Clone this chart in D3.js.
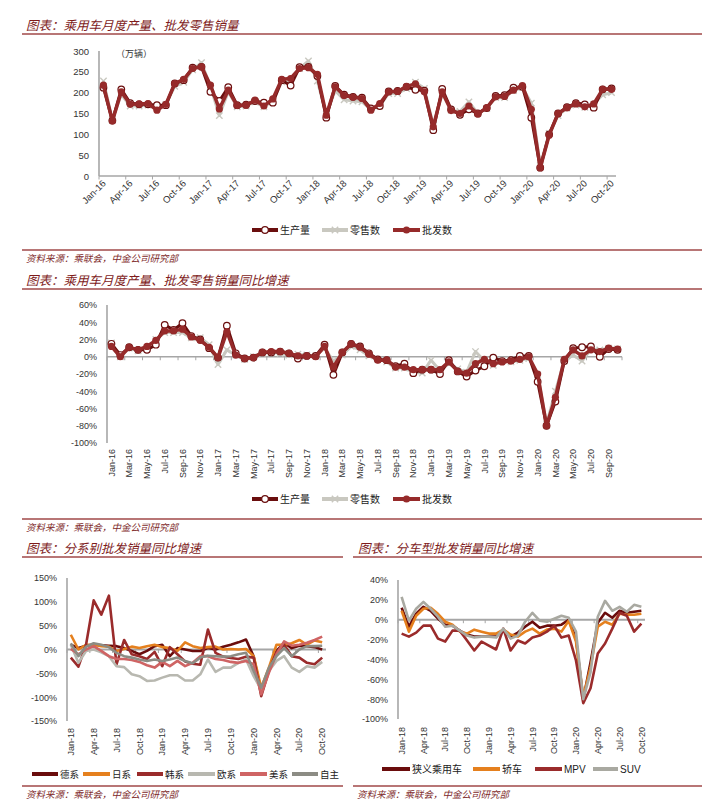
<!DOCTYPE html>
<html>
<head>
<meta charset="utf-8">
<script src="https://cdn.jsdelivr.net/npm/d3@7"></script>
<style>
  body { margin: 0; background: #fff; }
  svg text { font-family: "Liberation Sans", Arial, sans-serif; }
</style>
</head>
<body>
<svg width="717" height="810"></svg>
<script>
// categories
var monthsA = d3.timeMonth.range(new Date(2016, 0, 1), new Date(2020, 10, 1)).map(d3.timeFormat("%b-%y"));
var monthsB = d3.timeMonth.range(new Date(2018, 0, 1), new Date(2020, 10, 1)).map(d3.timeFormat("%b-%y"));

// chart 1: monthly volume (万辆)
var prodVol = [212, 133, 208, 175, 172, 172, 170, 170, 222, 230, 260, 262,
  202, 180, 213, 170, 171, 180, 176, 176, 230, 217, 261, 262,
  240, 140, 216, 195, 190, 188, 162, 168, 203, 204, 214, 207,
  205, 110, 209, 160, 147, 160, 150, 163, 192, 194, 212, 214,
  140, 20, 100, 150, 165, 175, 172, 164, 208, 210];
var retailVol = [228, 135, 196, 168, 168, 170, 165, 172, 215, 225, 255, 272,
  215, 145, 202, 166, 168, 178, 166, 180, 226, 226, 258, 276,
  228, 148, 205, 183, 180, 178, 160, 168, 198, 198, 210, 225,
  210, 122, 198, 158, 155, 178, 150, 162, 188, 188, 205, 212,
  175, 25, 102, 145, 163, 170, 165, 172, 195, 200];
var wholesaleVol = [218, 132, 202, 172, 173, 174, 158, 172, 222, 232, 258, 262,
  218, 161, 206, 169, 170, 182, 168, 185, 232, 234, 258, 260,
  244, 146, 214, 193, 189, 186, 158, 174, 202, 203, 215, 221,
  202, 118, 202, 157, 150, 168, 149, 164, 190, 191, 206, 217,
  160, 20, 98, 150, 164, 173, 166, 173, 208, 208];

// chart 2: YoY (%)
var prodYoy = [15, 2, 11, 8, 8, 14, 37, 31, 39, 24, 20, 10,
  -1, 36, 4, -2, -1, 5, 5, 6, 4, -2, 1, 1,
  14, -21, 5, 15, 12, 4, -3, -4, -11, -8, -19, -15,
  -15, -20, -4, -17, -23, -16, -11, -1, -5, -4, 1, 1,
  -29, -80, -52, -5, 10, 11, 12, 0, 9, 8];
var retailYoy = [16, 0, 10, 7, 10, 20, 28, 28, 28, 22, 22, 14,
  -9, 8, 2, -3, 0, 4, 5, 4, 2, 3, 2, 1,
  10, -5, 2, 12, 8, 1, -3, -6, -13, -13, -18, -19,
  -4, -16, -8, -14, -18, 6, -5, -10, -5, -6, -4, -2,
  -21, -78, -40, -5, 2, -5, 9, 8, 10, 9];
var wholesaleYoy = [12, 0, 11, 8, 12, 19, 30, 30, 32, 23, 19, 11,
  -1, 29, 2, -2, -1, 5, 6, 6, 4, 1, 1, 0,
  12, -12, 5, 15, 11, 3, -4, -4, -12, -12, -15, -15,
  -15, -15, -6, -17, -19, -8, -3, -8, -6, -5, -3, 0,
  -20, -80, -47, -3, 8, 1, 8, 6, 10, 9];

// chart 3: by brand origin (%)
var german = [10, 3, 8, 10, 9, 8, 7, 3, -3, -10, -3, 7, 10, -14, 3, 0, -3, -3, 3, 0, 6, 10, 15, 21, -14, -90, -42, -3, 14, 3, 8, 7, 5, 0];
var japanese = [31, 0, 10, 10, 7, 6, -3, 1, 6, 3, 7, 10, 5, 3, -3, 15, 7, 3, 5, 6, 0, 1, 0, 1, -14, -80, -38, 10, 10, 13, 20, 10, 19, 15];
var korean = [-17, -36, 10, 103, 73, 113, -31, 20, -10, -14, -20, -5, -35, 5, -10, -25, -30, -32, 42, -7, -15, -18, -20, -15, -17, -98, -45, -5, 10, -14, -17, -28, -31, -17];
var european = [10, -28, -3, 0, -6, -14, -35, -37, -52, -56, -66, -65, -59, -54, -54, -65, -65, -52, -21, -47, -38, -38, -28, -21, -56, -84, -45, -24, -14, -38, -47, -35, -38, -26];
var american = [1, -10, 0, 7, -3, -14, -20, -20, -22, -26, -33, -38, -26, -35, -24, -35, -28, -14, -14, -20, -22, -26, -28, -24, -31, -94, -49, -10, 17, 8, 10, 14, 20, 27];
var domestic = [13, -14, 6, 13, 10, 5, -7, -14, -17, -21, -24, -21, -24, -21, -17, -24, -29, -17, -13, -14, -15, -14, -10, -7, -45, -80, -38, -14, 3, -14, 0, 7, 7, 8];

// chart 4: by vehicle type (%)
var passenger = [12, -7, 6, 13, 9, 1, -5, -6, -11, -15, -17, -17, -17, -17, -10, -17, -13, -7, -2, -8, -6, -6, -5, 0, -19, -80, -43, -3, 7, 2, 9, 7, 8, 9];
var sedan = [9, -12, 4, 11, 12, 6, -2, -5, -12, -14, -10, -12, -14, -14, -10, -15, -17, -12, -9, -14, -10, -9, -12, -1, -22, -78, -48, -7, -2, -5, 6, 5, 5, 6];
var mpv = [-14, -17, -13, -6, -6, -19, -22, -11, -11, -21, -31, -22, -26, -30, -9, -31, -21, -24, -18, -16, -12, -6, -18, -16, -41, -84, -69, -34, -24, -9, 7, 4, -12, -4];
var suv = [23, -1, 11, 18, 11, 3, -7, -6, -11, -16, -18, -17, -17, -18, -9, -19, -16, -2, 7, -1, -2, 1, 4, 2, -12, -80, -53, 3, 19, 9, 13, 8, 15, 13];

var svg = d3.select("svg");
svg.append("rect").attr("width", 717).attr("height", 810).attr("fill", "#fff");

var CJK = "'Noto Sans CJK SC', sans-serif";
var SOURCE = "资料来源：乘联会，中金公司研究部";

function header(tx, lx1, lx2, y, title) {
  svg.append("text").attr("x", tx).attr("y", y)
    .style("font-family", CJK).attr("font-style", "italic")
    .attr("font-size", 12.5).attr("fill", "#7E1B1B").text(title);
  svg.append("line").attr("x1", lx1).attr("x2", lx2).attr("y1", y + 4).attr("y2", y + 4)
    .attr("stroke", "#A04848").attr("stroke-width", 1.3);
}

function footer(tx, lx1, lx2, y) {
  svg.append("line").attr("x1", lx1).attr("x2", lx2).attr("y1", y).attr("y2", y)
    .attr("stroke", "#A04848").attr("stroke-width", 1.3);
  svg.append("text").attr("x", tx).attr("y", y + 12)
    .style("font-family", CJK).attr("font-style", "italic")
    .attr("font-size", 9.5).attr("fill", "#7E2A2A").text(SOURCE);
}

function marker(g, type, cx, cy, color) {
  if (type === "open") {
    g.append("circle").attr("cx", cx).attr("cy", cy).attr("r", 3.3)
      .attr("fill", "#fff").attr("stroke", color).attr("stroke-width", 1.2);
  } else if (type === "dot") {
    g.append("circle").attr("cx", cx).attr("cy", cy).attr("r", 3.6).attr("fill", color);
  } else if (type === "cross") {
    var s = 3.2;
    g.append("path").attr("d", "M" + (cx - s) + "," + (cy - s) + "L" + (cx + s) + "," + (cy + s) +
      "M" + (cx - s) + "," + (cy + s) + "L" + (cx + s) + "," + (cy - s))
      .attr("stroke", color).attr("stroke-width", 1.4);
  }
}

function panel(o) {
  var x = d3.scaleBand().domain(o.cats).range([o.x0, o.x1]);
  var y = d3.scaleLinear().domain(o.yDomain).range([o.yBot, o.yTop]);
  var g = svg.append("g");
  var bw = x.bandwidth();

  // y tick labels
  g.append("g").attr("transform", "translate(" + o.x0 + ",0)")
    .call(d3.axisLeft(y).tickValues(o.ticks).tickSize(0).tickPadding(o.pad).tickFormat(o.fmt))
    .call(function (s) { s.select(".domain").remove(); })
    .selectAll("text").attr("font-size", o.fs).attr("fill", "#333")
    .style("font-family", "'Liberation Sans', Arial, sans-serif");

  // y axis line
  g.append("line").attr("x1", o.x0).attr("x2", o.x0).attr("y1", o.yTop).attr("y2", o.yBot)
    .attr("stroke", "#A6A6A6").attr("stroke-width", 1.6);

  // category baseline at 0
  var y0 = y(0);
  g.append("line").attr("x1", o.x0).attr("x2", o.x1).attr("y1", y0).attr("y2", y0)
    .attr("stroke", "#A6A6A6").attr("stroke-width", o.baseW);
  var b;
  for (b = 0; b <= o.cats.length; b += o.every) {
    var bx = o.x0 + b * bw;
    g.append("line").attr("x1", bx).attr("x2", bx).attr("y1", y0).attr("y2", y0 + 3.5)
      .attr("stroke", "#A6A6A6").attr("stroke-width", 1);
  }

  // category labels
  var labs = o.cats.filter(function (d, i) { return i % o.every === 0; });
  labs.forEach(function (d) {
    var cx = x(d) + bw / 2;
    var t = g.append("text").attr("font-size", o.fs).attr("fill", "#333").text(d)
      .style("font-family", "'Liberation Sans', Arial, sans-serif");
    if (o.rot === -45) {
      t.attr("text-anchor", "end")
        .attr("transform", "translate(" + (cx + 3) + "," + (o.labelY) + ") rotate(-45)");
    } else {
      t.attr("text-anchor", "end").attr("dy", "0.35em")
        .attr("transform", "translate(" + cx + "," + (o.labelY) + ") rotate(-90)");
    }
  });

  // series
  var line = d3.line().x(function (d, i) { return x(o.cats[i]) + bw / 2; }).y(function (d) { return y(d); });
  o.series.forEach(function (s) {
    g.append("path").datum(s.values).attr("d", line).attr("fill", "none")
      .attr("stroke", s.color).attr("stroke-width", s.width).attr("stroke-linejoin", "round");
    if (s.marker) {
      s.values.forEach(function (v, i) { marker(g, s.marker, x(o.cats[i]) + bw / 2, y(v), s.mcolor || s.color); });
    }
  });
}

function legend(items, y, fs) {
  items.forEach(function (it) {
    svg.append("line").attr("x1", it.x1).attr("x2", it.x2).attr("y1", y).attr("y2", y)
      .attr("stroke", it.color).attr("stroke-width", it.w || 4);
    if (it.marker) marker(svg, it.marker, (it.x1 + it.x2) / 2, y, it.mcolor || it.color);
    svg.append("text").attr("x", it.x2 + 2).attr("y", y + 3.5)
      .style("font-family", it.latin ? "'Liberation Sans', Arial, sans-serif" : CJK)
      .attr("font-size", fs).attr("fill", "#222").text(it.name);
  });
}

var C_PROD = "#6A0E0E", C_RET = "#C9C8C0", C_WHO = "#962A2A";

// ---------- section 1 ----------
header(26, 22, 702, 30, "图表：乘用车月度产量、批发零售销量");
svg.append("text").attr("x", 116).attr("y", 57).style("font-family", CJK)
  .attr("font-size", 9).attr("fill", "#333").text("（万辆）");
panel({
  cats: monthsA, x0: 99, x1: 616, yTop: 51, yBot: 176, yDomain: [0, 300],
  ticks: d3.range(0, 301, 50), fmt: d3.format("d"), pad: 10, fs: 9.5,
  every: 3, rot: -45, labelY: 184, baseW: 1.6,
  series: [
    { values: retailVol, color: C_RET, width: 3, marker: "cross" },
    { values: prodVol, color: C_PROD, width: 3, marker: "open" },
    { values: wholesaleVol, color: C_WHO, width: 3.5, marker: "dot" }
  ]
});
var legItems = [
  { name: "生产量", x1: 252, x2: 278, color: C_PROD, marker: "open" },
  { name: "零售数", x1: 322, x2: 348, color: C_RET, marker: "cross" },
  { name: "批发数", x1: 393, x2: 420, color: C_WHO, marker: "dot" }
];
legend(legItems, 230, 10);
footer(26, 22, 702, 250);

// ---------- section 2 ----------
header(26, 22, 702, 285, "图表：乘用车月度产量、批发零售销量同比增速");
panel({
  cats: monthsA, x0: 107, x1: 622, yTop: 305, yBot: 443, yDomain: [-100, 60],
  ticks: d3.range(-100, 61, 20), fmt: function (d) { return d + "%"; }, pad: 10, fs: 9,
  every: 2, rot: -90, labelY: 449, baseW: 1.6,
  series: [
    { values: retailYoy, color: C_RET, width: 3, marker: "cross" },
    { values: prodYoy, color: C_PROD, width: 3, marker: "open" },
    { values: wholesaleYoy, color: C_WHO, width: 3.5, marker: "dot" }
  ]
});
legend(legItems, 499, 10);
footer(26, 22, 702, 519);

// ---------- section 3 (left) ----------
header(26, 22, 343, 553, "图表：分系别批发销量同比增速");
panel({
  cats: monthsB, x0: 67, x1: 326, yTop: 578, yBot: 721, yDomain: [-150, 150],
  ticks: d3.range(-150, 151, 50), fmt: function (d) { return d + "%"; }, pad: 10, fs: 9,
  every: 3, rot: -90, labelY: 728, baseW: 2,
  series: [
    { values: german, color: "#6A0C0C", width: 2.6 },
    { values: japanese, color: "#E5801E", width: 2.6 },
    { values: korean, color: "#9A2B2B", width: 2.6 },
    { values: european, color: "#B8B8B0", width: 2.6 },
    { values: american, color: "#CF6464", width: 2.6 },
    { values: domestic, color: "#8C8C84", width: 2.6 }
  ]
});
legend([
  { name: "德系", x1: 32, x2: 58, color: "#6A0C0C" },
  { name: "日系", x1: 83, x2: 110, color: "#E5801E" },
  { name: "韩系", x1: 137, x2: 163, color: "#9A2B2B" },
  { name: "欧系", x1: 188, x2: 215, color: "#B8B8B0" },
  { name: "美系", x1: 240, x2: 267, color: "#CF6464" },
  { name: "自主", x1: 292, x2: 318, color: "#8C8C84" }
], 774, 9.5);
footer(26, 22, 343, 786);

// ---------- section 3 (right) ----------
header(358, 353, 702, 553, "图表：分车型批发销量同比增速");
panel({
  cats: monthsB, x0: 398, x1: 645, yTop: 580, yBot: 719, yDomain: [-100, 40],
  ticks: d3.range(-100, 41, 20), fmt: function (d) { return d + "%"; }, pad: 10, fs: 9,
  every: 3, rot: -90, labelY: 727, baseW: 2,
  series: [
    { values: passenger, color: "#6A0C0C", width: 2.6 },
    { values: sedan, color: "#E5801E", width: 2.6 },
    { values: mpv, color: "#9A2B2B", width: 2.6 },
    { values: suv, color: "#A9A9A1", width: 2.6 }
  ]
});
legend([
  { name: "狭义乘用车", x1: 382, x2: 410, color: "#6A0C0C" },
  { name: "轿车", x1: 473, x2: 500, color: "#E5801E" },
  { name: "MPV", x1: 535, x2: 562, color: "#9A2B2B", latin: true },
  { name: "SUV", x1: 593, x2: 618, color: "#A9A9A1", latin: true }
], 769, 10);
footer(357, 353, 702, 786);
</script>
</body>
</html>
